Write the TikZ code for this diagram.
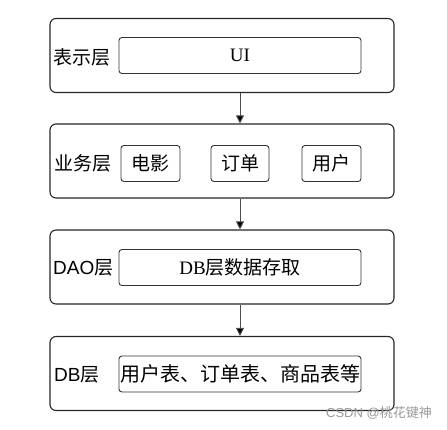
\documentclass[tikz,border=0pt]{standalone}
\usepackage{fontspec}
\setmainfont{Liberation Serif}
\setsansfont{Liberation Sans}
\newfontfamily\cjk{Noto Sans CJK SC}
\usetikzlibrary{positioning}
\usetikzlibrary{arrows.meta}

\tikzset{
    layer/.style={draw=black!85, line width=1.1pt, rounded corners=6pt,
        minimum width=344pt, minimum height=74pt, inner sep=0pt},
    part/.style={draw=black!80, line width=0.9pt, rounded corners=3pt,
        minimum height=36pt, inner sep=0pt, font=\fontsize{19}{20}\selectfont},
    tag/.style={anchor=west, inner sep=0pt, font=\sffamily\fontsize{19}{20}\selectfont},
    flow/.style={draw=black!70, line width=1pt, -{Triangle[length=8pt, width=8pt, fill=black]}}
}

\begin{document}
\begin{tikzpicture}[x=1pt, y=-1pt]
    \useasboundingbox (0,0) rectangle (447,429);
    % four layers
    \node[layer] (show) at (222,55.5) {};
    \node[layer] (biz) at (222,161) {};
    \node[layer] (dao) at (222,267) {};
    \node[layer] (db) at (222,373.5) {};
    % layer names
    \node[tag] (showname) at (53,57) {\cjk 表示层};
    \node[tag] (bizname) at (54,163) {\cjk 业务层};
    \node[tag] (daoname) at (53,268) {DAO\cjk 层};
    \node[tag] (dbname) at (54,375) {DB\cjk 层};
    % contents
    \node[part, minimum width=242pt] (ui) at (240,55.5) {UI};
    \node[part, minimum width=59pt] (movie) at (150.5,163.5) {\cjk 电影};
    \node[part, minimum width=58pt] (order) at (240,163.5) {\cjk 订单};
    \node[part, minimum width=59pt] (user) at (331.5,163.5) {\cjk 用户};
    \node[part, minimum width=242pt] (access) at (240,267.5) {DB{\cjk 层数据存取}};
    \node[part, minimum width=242pt, font=\fontsize{20}{21}\selectfont] (tables) at (240,374) {\cjk 用户表、订单表、商品表等};
    % arrows
    \draw[flow] ([xshift=18pt]show.south) -- ([xshift=18pt]biz.north);
    \draw[flow] ([xshift=18pt]biz.south) -- ([xshift=18pt]dao.north);
    \draw[flow] ([xshift=18pt]dao.south) -- ([xshift=18pt]db.north);
    % watermark
    \node[anchor=east, inner sep=0pt, text=black!40, font=\sffamily\fontsize{13}{14}\selectfont] (mark) at (432,413) {CSDN @{\cjk 桃花键神}};
\end{tikzpicture}
\end{document}
